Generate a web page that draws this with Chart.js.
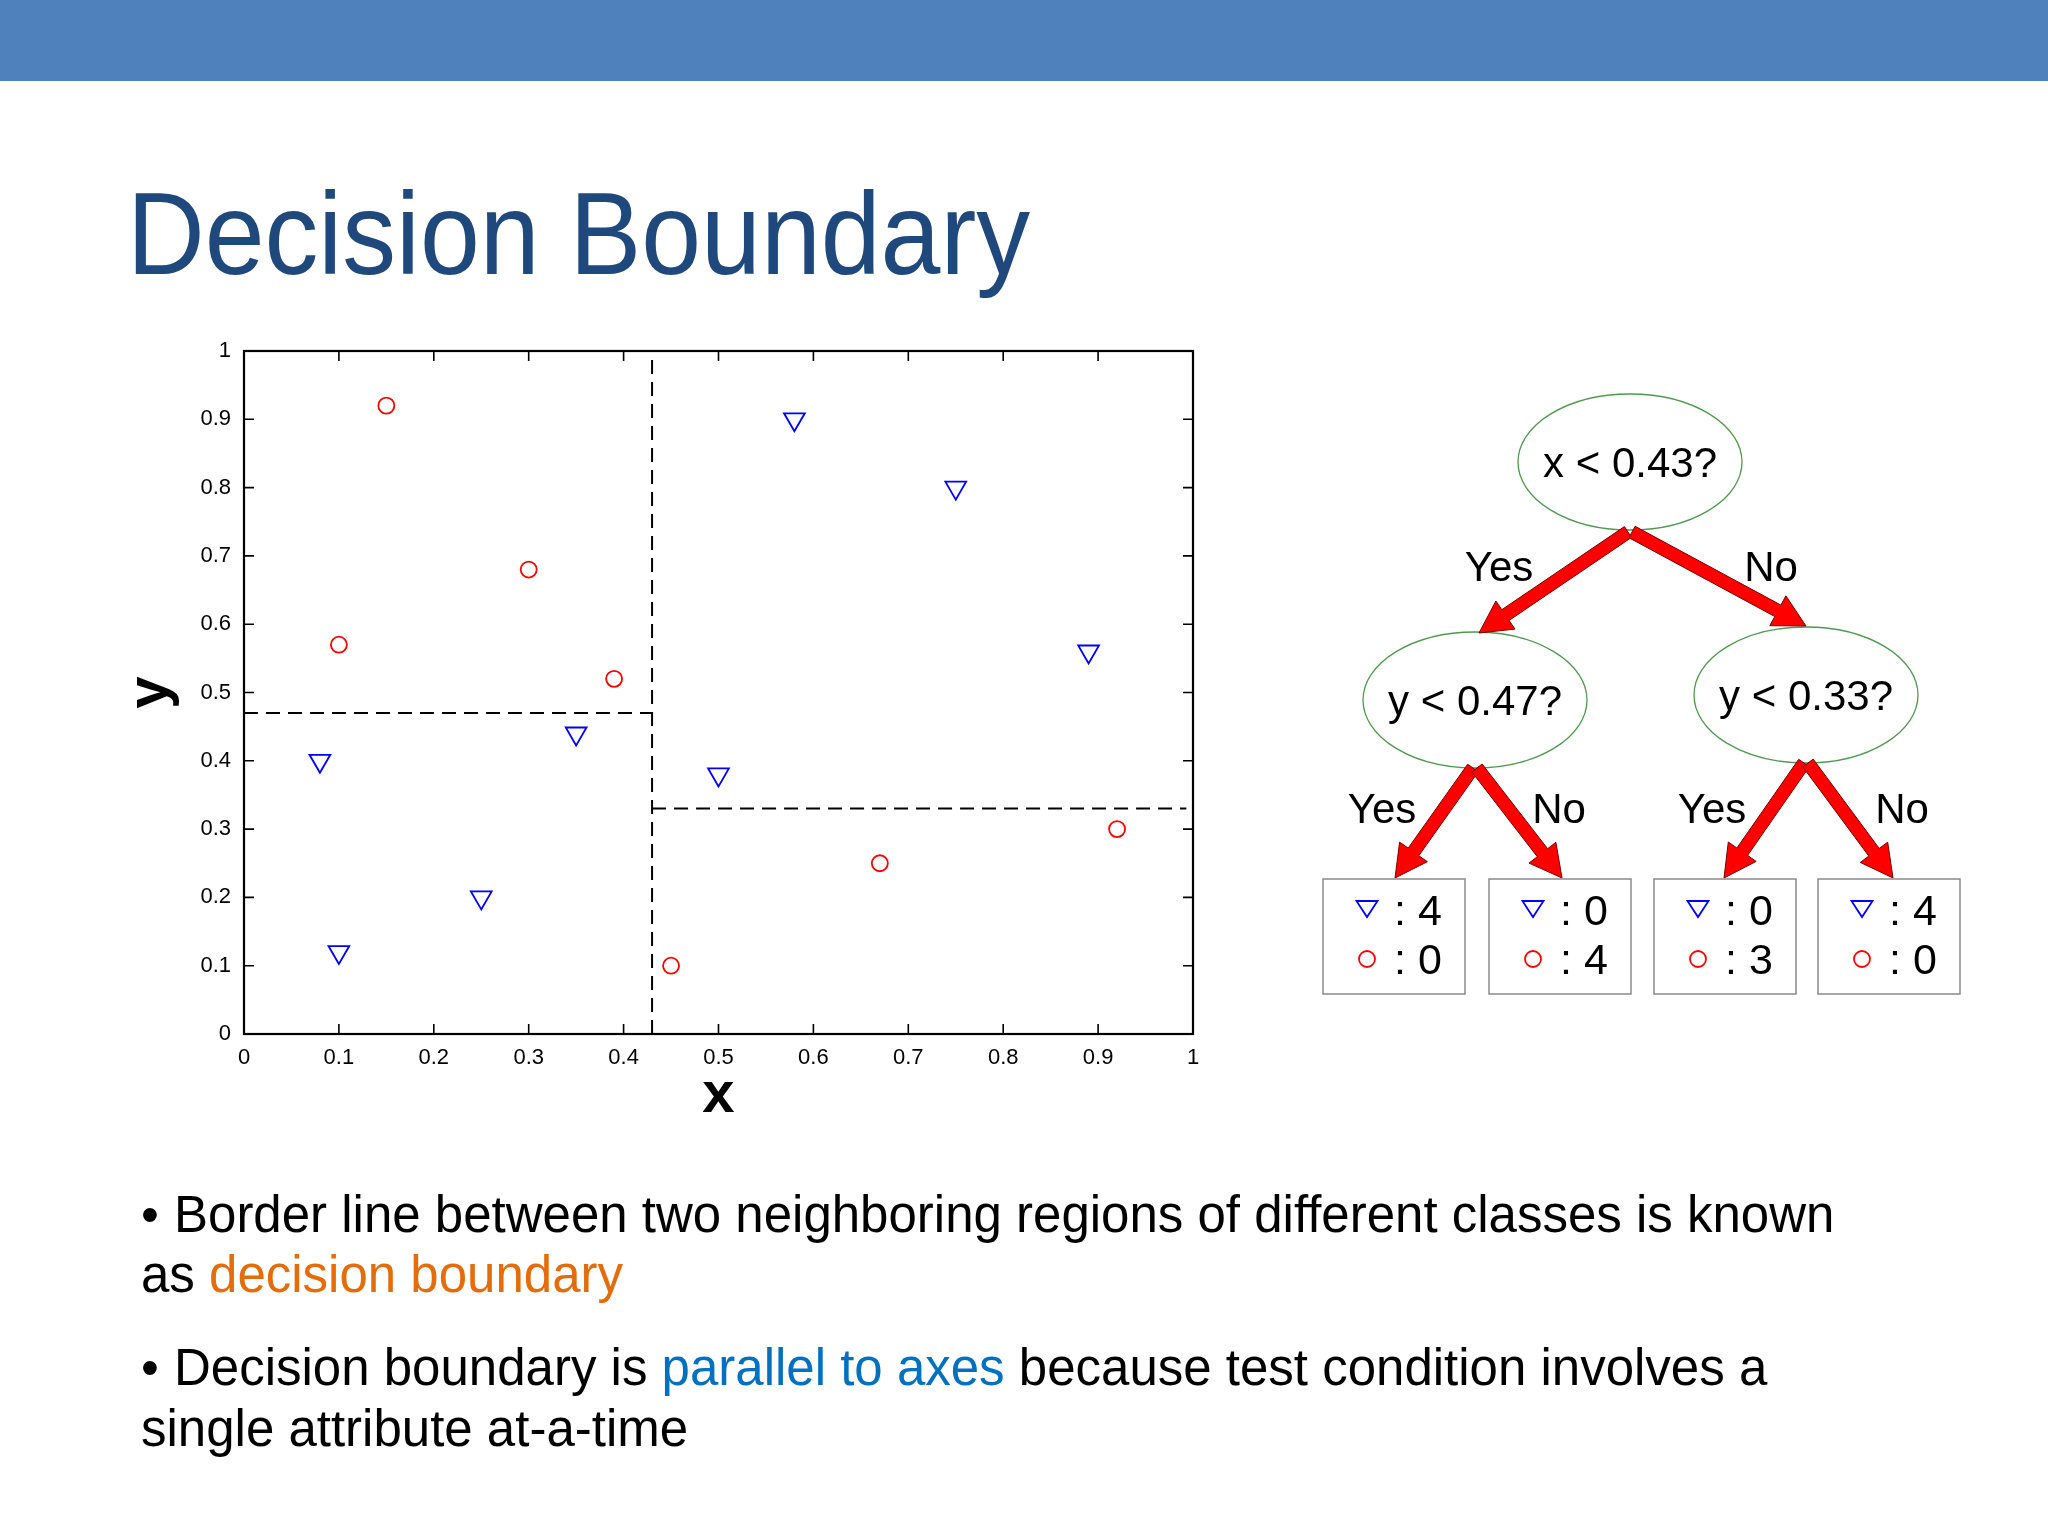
<!DOCTYPE html>
<html>
<head>
<meta charset="utf-8">
<script src="https://cdn.jsdelivr.net/npm/chart.js@4.4.1/dist/chart.umd.min.js"></script>
<style>
html,body{margin:0;padding:0;background:#fff;}
#page{position:relative;width:2048px;height:1536px;overflow:hidden;background:#fff;font-family:"Liberation Sans",Arial,sans-serif;}
#bar{position:absolute;left:0;top:0;width:2048px;height:81px;background:#4F81BD;}
#chartBox{position:absolute;left:100px;top:320px;width:1130px;height:820px;}
#overlay{position:absolute;left:0;top:0;pointer-events:none;}
</style>
</head>
<body>
<div id="page">
  <div id="bar"></div>
  <div id="chartBox"><canvas id="c"></canvas></div>
  <svg id="overlay" width="2048" height="1536" xmlns="http://www.w3.org/2000/svg" font-family="Liberation Sans, Arial, sans-serif"></svg>
</div>
<script>
// ---------- data ----------
const tickValues = [0, 0.1, 0.2, 0.3, 0.4, 0.5, 0.6, 0.7, 0.8, 0.9, 1];
const tickLabels = ['0', '0.1', '0.2', '0.3', '0.4', '0.5', '0.6', '0.7', '0.8', '0.9', '1'];

const triangleX = [0.08, 0.10, 0.25, 0.35, 0.50, 0.58, 0.75, 0.89];
const triangleY = [0.40, 0.12, 0.20, 0.44, 0.38, 0.90, 0.80, 0.56];

const circleX = [0.10, 0.15, 0.30, 0.39, 0.45, 0.67, 0.92];
const circleY = [0.57, 0.92, 0.68, 0.52, 0.10, 0.25, 0.30];

const splitX = 0.43;
const splitYLeft = 0.47;
const splitYRight = 0.33;
const rightLineEnd = 0.993;

const treeQuestions = ['x < 0.43?', 'y < 0.47?', 'y < 0.33?'];
const branchLabels = ['Yes', 'No'];
const leafTriangleCounts = [4, 0, 0, 4];
const leafCircleCounts = [0, 4, 3, 0];

const titleText = 'Decision Boundary';

// ---------- chart ----------
const FONT = '"Liberation Sans", Arial, sans-serif';

const frameTicks = {
  id: 'frameTicks',
  afterDraw(chart) {
    const {ctx, chartArea, scales} = chart;
    const {left, right, top, bottom} = chartArea;
    const xs = scales.x, ys = scales.y;
    const len = 10;
    ctx.save();
    ctx.strokeStyle = '#000';
    ctx.lineWidth = 1.6;
    ctx.beginPath();
    tickValues.forEach(v => {
      if (v <= 0 || v >= 1) return;
      const px = xs.getPixelForValue(v);
      ctx.moveTo(px, bottom); ctx.lineTo(px, bottom - len);
      ctx.moveTo(px, top); ctx.lineTo(px, top + len);
      const py = ys.getPixelForValue(v);
      ctx.moveTo(left, py); ctx.lineTo(left + len, py);
      ctx.moveTo(right, py); ctx.lineTo(right - len, py);
    });
    ctx.stroke();
    ctx.lineWidth = 2.2;
    ctx.strokeRect(left, top, right - left, bottom - top);
    ctx.restore();
  }
};

const dashStyle = {
  showLine: true, borderColor: '#000', borderWidth: 2, borderDash: [14, 8],
  pointRadius: 0, pointHoverRadius: 0, fill: false, tension: 0
};

new Chart(document.getElementById('c'), {
  type: 'scatter',
  data: {
    datasets: [
      Object.assign({ label: 'split x', data: [{x: splitX, y: 0}, {x: splitX, y: 1}] }, dashStyle),
      Object.assign({ label: 'split y left', data: [{x: 0, y: splitYLeft}, {x: splitX, y: splitYLeft}] }, dashStyle),
      Object.assign({ label: 'split y right', data: [{x: splitX, y: splitYRight}, {x: rightLineEnd, y: splitYRight}] }, dashStyle),
      {
        label: 'triangle',
        data: triangleX.map((v, i) => ({x: v, y: triangleY[i]})),
        pointStyle: 'triangle', rotation: 180, pointRadius: 12, pointHoverRadius: 12,
        borderColor: '#0000ff', backgroundColor: 'rgba(0,0,0,0)', borderWidth: 1.8, showLine: false
      },
      {
        label: 'circle',
        data: circleX.map((v, i) => ({x: v, y: circleY[i]})),
        pointStyle: 'circle', pointRadius: 8, pointHoverRadius: 8,
        borderColor: '#ff0000', backgroundColor: 'rgba(0,0,0,0)', borderWidth: 1.8, showLine: false
      }
    ]
  },
  options: {
    responsive: true,
    maintainAspectRatio: false,
    animation: false,
    devicePixelRatio: 1,
    layout: { padding: { top: 31, right: 37, left: 0, bottom: 0 } },
    plugins: { legend: { display: false }, tooltip: { enabled: false } },
    scales: {
      x: {
        type: 'linear', min: 0, max: 1,
        afterBuildTicks: s => { s.ticks = tickValues.map(v => ({value: v})); },
        afterFit: s => { s.height = 106; },
        grid: { display: false, drawTicks: false },
        border: { display: false },
        ticks: {
          padding: 11, color: '#000', font: { family: FONT, size: 22 },
          maxRotation: 0, autoSkip: false,
          callback: (v, i) => tickLabels[i]
        },
        title: { display: true, text: 'x', color: '#000', font: { family: FONT, size: 58, weight: 'bold' }, padding: { top: 0, bottom: 9 } }
      },
      y: {
        type: 'linear', min: 0, max: 1,
        afterBuildTicks: s => { s.ticks = tickValues.map(v => ({value: v})); },
        afterFit: s => { s.width = 144; },
        grid: { display: false, drawTicks: false },
        border: { display: false },
        ticks: {
          padding: 13, color: '#000', font: { family: FONT, size: 22 },
          autoSkip: false,
          callback: (v, i) => tickLabels[i]
        },
        title: { display: true, text: 'y', color: '#000', font: { family: FONT, size: 58, weight: 'bold' }, padding: { top: 16, bottom: 0 } }
      }
    }
  },
  plugins: [frameTicks]
});

// ---------- slide text & tree (SVG) ----------
const svg = document.getElementById('overlay');
const NS = 'http://www.w3.org/2000/svg';
function el(name, attrs, text) {
  const e = document.createElementNS(NS, name);
  for (const k in attrs) e.setAttribute(k, attrs[k]);
  if (text !== undefined) e.textContent = text;
  svg.appendChild(e);
  return e;
}
function textWithSpans(x, y, size, parts) {
  const t = document.createElementNS(NS, 'text');
  t.setAttribute('x', x); t.setAttribute('y', y); t.setAttribute('font-size', size);
  t.setAttribute('fill', '#000');
  parts.forEach(p => {
    const s = document.createElementNS(NS, 'tspan');
    if (p.fill) s.setAttribute('fill', p.fill);
    if (p.x !== undefined) s.setAttribute('x', p.x);
    s.textContent = p.t;
    t.appendChild(s);
  });
  t.setAttribute('style', 'white-space:pre');
  svg.appendChild(t);
}

// title
el('text', { x: 127, y: 274, 'font-size': 117, fill: '#1F497D', textLength: 903, lengthAdjust: 'spacingAndGlyphs' }, titleText);

// bullets
textWithSpans(141, 1232, 51, [{t: '•'}, {t: 'Border line between two neighboring regions of different classes is known', x: 174}]);
textWithSpans(141, 1292, 51, [{t: 'as '}, {t: 'decision boundary', fill: '#E46C0A'}]);
textWithSpans(141, 1385, 51, [{t: '•'}, {t: 'Decision boundary is ', x: 174}, {t: 'parallel to axes', fill: '#0070C0'}, {t: ' because test condition involves a'}]);
textWithSpans(141, 1446, 51, [{t: 'single attribute at-a-time'}]);

// tree layout
const nodes = [
  { cx: 1630, cy: 462, base: 477 },
  { cx: 1475, cy: 700, base: 715 },
  { cx: 1806, cy: 695, base: 710 }
];
const RX = 112, RY = 68;
nodes.forEach((n, i) => {
  el('ellipse', { cx: n.cx, cy: n.cy, rx: RX, ry: RY, fill: 'none', stroke: '#4f9a4f', 'stroke-width': 1.3 });
  el('text', { x: n.cx, y: n.base, 'font-size': 42, 'text-anchor': 'middle', fill: '#000' }, treeQuestions[i]);
});

function arrow(x1, y1, x2, y2) {
  const L = Math.hypot(x2 - x1, y2 - y1);
  const dx = (x2 - x1) / L, dy = (y2 - y1) / L;
  const nx = -dy, ny = dx;
  const sw = 6.5, hw = 17, hl = 32;
  const bx = x2 - dx * hl, by = y2 - dy * hl;
  const pts = [
    [x1 + nx * sw, y1 + ny * sw], [bx + nx * sw, by + ny * sw], [bx + nx * hw, by + ny * hw],
    [x2, y2], [bx - nx * hw, by - ny * hw], [bx - nx * sw, by - ny * sw], [x1 - nx * sw, y1 - ny * sw]
  ];
  el('polygon', { points: pts.map(p => p[0].toFixed(1) + ',' + p[1].toFixed(1)).join(' '), fill: '#ff0000', stroke: '#7a0000', 'stroke-width': 1 });
}
arrow(1628, 532, 1479, 633);
arrow(1632, 532, 1806, 626);
arrow(1473, 768, 1395, 878);
arrow(1477, 768, 1562, 878);
arrow(1804, 763, 1724, 878);
arrow(1808, 763, 1893, 878);

// branch labels
[[1499, 581, 0], [1771, 581, 1], [1382, 823, 0], [1559, 823, 1], [1712, 823, 0], [1902, 823, 1]].forEach(p => {
  el('text', { x: p[0], y: p[1], 'font-size': 42, 'text-anchor': 'middle', fill: '#000' }, branchLabels[p[2]]);
});

// leaves
const leafLeft = [1323, 1489, 1654, 1818];
const leafTop = 879, leafW = 142, leafH = 115;
leafLeft.forEach((lx, i) => {
  el('rect', { x: lx, y: leafTop, width: leafW, height: leafH, fill: '#fff', stroke: '#8a8a8a', 'stroke-width': 1.5 });
  const mx = lx + 44;
  const ty = 908;
  el('polygon', { points: `${mx - 10.5},${ty - 7} ${mx + 10.5},${ty - 7} ${mx},${ty + 9}`, fill: 'none', stroke: '#0000ff', 'stroke-width': 1.8 });
  el('circle', { cx: mx, cy: 959, r: 8, fill: 'none', stroke: '#ff0000', 'stroke-width': 1.8 });
  el('text', { x: lx + 71, y: 925, 'font-size': 43, fill: '#000', style: 'white-space:pre' }, ': ' + leafTriangleCounts[i]);
  el('text', { x: lx + 71, y: 974, 'font-size': 43, fill: '#000', style: 'white-space:pre' }, ': ' + leafCircleCounts[i]);
});
</script>
</body>
</html>
